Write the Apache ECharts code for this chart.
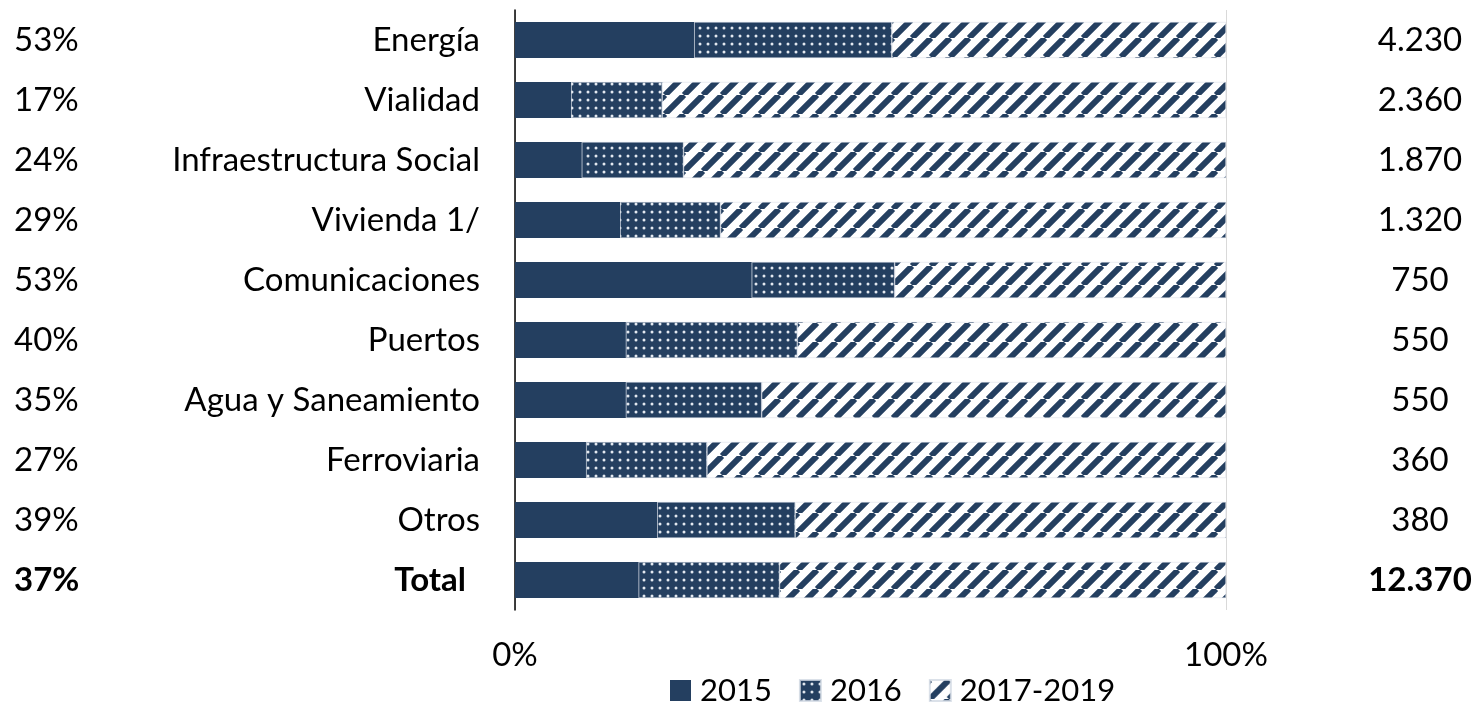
<!DOCTYPE html>
<html>
<head>
<meta charset="utf-8">
<script src="https://cdn.jsdelivr.net/npm/echarts@6/dist/echarts.min.js"></script>
<style>
  html, body { margin: 0; padding: 0; background: #fff; }
  #chart { width: 1475px; height: 703px; }
</style>
</head>
<body>
<div id="chart"></div>
<script>
// Sectors, top to bottom
const categories = ['Energía', 'Vialidad', 'Infraestructura Social', 'Vivienda 1/', 'Comunicaciones',
  'Puertos', 'Agua y Saneamiento', 'Ferroviaria', 'Otros', 'Total'];

// Share of each sector's total executed per period (%)
const share2015 = [25.2, 7.9, 9.4, 14.8, 33.3, 15.6, 15.6, 10.0, 20.0, 17.4];
const share2016 = [27.8, 12.8, 14.3, 14.1, 20.1, 24.1, 19.1, 17.0, 19.4, 19.8];
const share2017_2019 = [47.0, 79.3, 76.3, 71.1, 46.6, 60.3, 65.3, 73.0, 60.6, 62.8];

// Left column: % executed 2015-2016; right column: amount
const pctExecuted = [53, 17, 24, 29, 53, 40, 35, 27, 39, 37];
const amounts = [4230, 2360, 1870, 1320, 750, 550, 550, 360, 380, 12370];

const seriesNames = ['2015', '2016', '2017-2019'];

const NAVY = '#243f60';
const FONT = 'Lato, "Open Sans", sans-serif';
const FS = 33;

function dotPattern() {
  const c = document.createElement('canvas');
  c.width = 8; c.height = 8;
  const g = c.getContext('2d');
  g.fillStyle = NAVY;
  g.fillRect(0, 0, 8, 8);
  g.fillStyle = '#e4e9f0';
  g.beginPath();
  g.arc(4, 4, 1.5, 0, Math.PI * 2);
  g.fill();
  return c;
}

function stripePattern() {
  const p = 19;
  const c = document.createElement('canvas');
  c.width = p; c.height = p;
  const g = c.getContext('2d');
  g.fillStyle = '#ffffff';
  g.fillRect(0, 0, p, p);
  g.strokeStyle = NAVY;
  g.lineWidth = 6;
  for (let k = -1; k <= 1; k++) {
    g.beginPath();
    g.moveTo(k * p, p);
    g.lineTo(k * p + p, 0);
    g.stroke();
  }
  return c;
}

function fmtThousands(n) {
  return String(n).replace(/\B(?=(\d{3})+(?!\d))/g, '.');
}

const isTotal = i => categories[i] === 'Total';

const chart = echarts.init(document.getElementById('chart'), null, { renderer: 'canvas' });

const fills = [NAVY, { image: dotPattern(), repeat: 'repeat' }, { image: stripePattern(), repeat: 'repeat' }];
const values = [share2015, share2016, share2017_2019];
const boldRich = { b: { fontWeight: 'bold', fontSize: FS, fontFamily: FONT, color: '#000' } };

chart.setOption({
  animation: false,
  textStyle: { fontFamily: FONT },
  grid: { left: 515, right: 249, top: 10, bottom: 93 },
  legend: {
    data: seriesNames,
    left: 665,
    top: 670,
    icon: 'rect',
    itemWidth: 21,
    itemHeight: 21,
    itemGap: 27,
    textStyle: { fontSize: 31, color: '#000', fontFamily: FONT, padding: [0, 0, 0, 4] }
  },
  xAxis: {
    type: 'value',
    min: 0,
    max: 100,
    interval: 100,
    axisLine: { show: false },
    axisTick: { show: false },
    splitLine: { show: true, lineStyle: { color: '#d9d9d9', width: 1 } },
    axisLabel: { formatter: '{value}%', fontSize: FS, color: '#000', margin: 29, fontFamily: FONT }
  },
  yAxis: [
    {
      type: 'category',
      data: categories,
      inverse: true,
      axisLine: { show: true, lineStyle: { color: '#000', width: 1.5 } },
      axisTick: { show: false },
      axisLabel: {
        margin: 35,
        fontSize: FS,
        color: '#000',
        fontFamily: FONT,
        formatter: (v, i) => isTotal(i) ? '{b|' + v + '}' : v,
        rich: { b: Object.assign({}, boldRich.b, { padding: [0, 14, 0, 0] }) }
      }
    },
    {
      type: 'category',
      data: categories,
      inverse: true,
      position: 'left',
      axisLine: { show: false },
      axisTick: { show: false },
      axisLabel: {
        margin: 501,
        align: 'left',
        fontSize: FS,
        color: '#000',
        fontFamily: FONT,
        formatter: (v, i) => isTotal(i) ? '{b|' + pctExecuted[i] + '%}' : pctExecuted[i] + '%',
        rich: boldRich
      }
    },
    {
      type: 'category',
      data: categories,
      inverse: true,
      position: 'right',
      axisLine: { show: false },
      axisTick: { show: false },
      axisLabel: {
        margin: 194,
        align: 'center',
        fontSize: FS,
        color: '#000',
        fontFamily: FONT,
        formatter: (v, i) => isTotal(i) ? '{b|' + fmtThousands(amounts[i]) + '}' : fmtThousands(amounts[i]),
        rich: boldRich
      }
    }
  ],
  series: seriesNames.map((name, k) => ({
    name,
    type: 'bar',
    stack: 'share',
    yAxisIndex: 0,
    barWidth: 36,
    data: values[k],
    itemStyle: { color: fills[k], borderColor: 'rgba(210,218,228,0.8)', borderWidth: k === 0 ? 0 : 0.6 }
  }))
});
</script>
</body>
</html>
